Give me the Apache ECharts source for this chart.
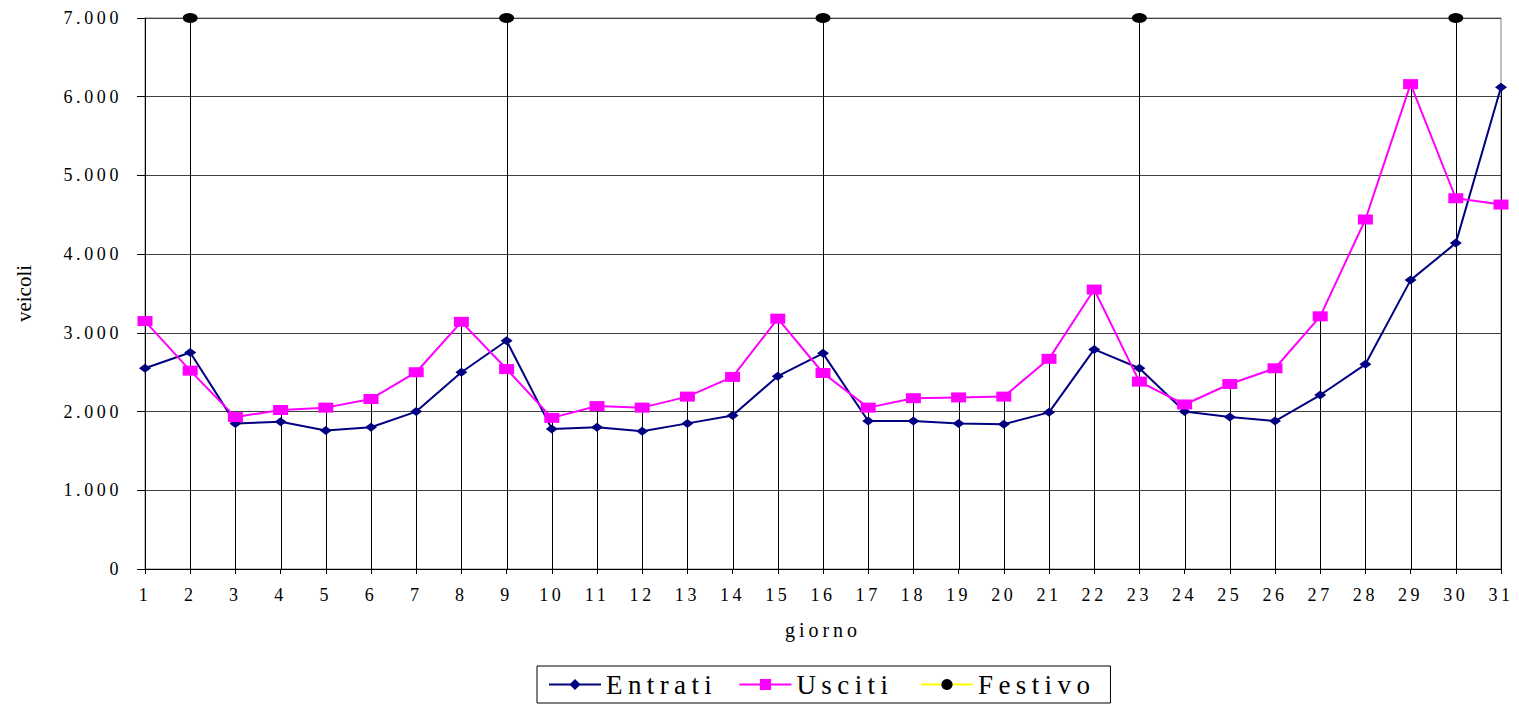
<!DOCTYPE html>
<html>
<head>
<meta charset="utf-8">
<script src="https://cdn.jsdelivr.net/npm/echarts@6/dist/echarts.min.js"></script>
<style>
  html, body { margin: 0; padding: 0; background: #fff; }
  #chart { width: 1519px; height: 706px; }
  #chart text, #chart tspan { letter-spacing: 0.2em; }
</style>
</head>
<body>
<div id="chart"></div>
<script>
// ---- data ----
const days = ['1','2','3','4','5','6','7','8','9','10','11','12','13','14','15','16','17','18','19','20','21','22','23','24','25','26','27','28','29','30','31'];
const entrati = [2550, 2750, 1850, 1870, 1760, 1800, 2000, 2500, 2900, 1780, 1800, 1750, 1850, 1950, 2450, 2740, 1880, 1880, 1850, 1840, 1990, 2790, 2550, 2000, 1930, 1880, 2210, 2600, 3670, 4140, 6120];
const usciti  = [3150, 2520, 1930, 2020, 2050, 2160, 2500, 3140, 2540, 1920, 2070, 2050, 2190, 2440, 3180, 2490, 2050, 2170, 2180, 2190, 2670, 3550, 2380, 2090, 2350, 2550, 3210, 4440, 6160, 4710, 4630];
const festivo = [null, 7000, null, null, null, null, null, null, 7000, null, null, null, null, null, null, 7000, null, null, null, null, null, null, 7000, null, null, null, null, null, null, 7000, null];
const yTicks = [0, 1000, 2000, 3000, 4000, 5000, 6000, 7000];
const seriesNames = ['Entrati', 'Usciti', 'Festivo'];

// drop lines: from the highest point of each day down to the axis
const dropData = days.map((d, i) => [i, Math.max(entrati[i] || 0, usciti[i] || 0, festivo[i] || 0)]);

const FONT = 'Liberation Serif';
const fmt = v => String(v).replace(/\B(?=(\d{3})+(?!\d))/g, '.');

const chart = echarts.init(document.getElementById('chart'), null, { renderer: 'svg' });
chart.setOption({
  animation: false,
  backgroundColor: '#fff',
  grid: { left: 145, right: 18, top: 18, bottom: 137, show: true, borderColor: '#808080', borderWidth: 1, backgroundColor: 'transparent' },
  legend: {
    data: seriesNames,
    left: 537, bottom: 3,
    itemWidth: 52, itemHeight: 14, itemGap: 59,
    padding: [5, 53, 5, 11],
    borderColor: '#000', borderWidth: 1,
    textStyle: { fontFamily: FONT, fontSize: 27, color: '#000' }
  },
  xAxis: {
    type: 'category', data: days, boundaryGap: false,
    name: 'giorno', nameLocation: 'middle', nameGap: 51,
    nameTextStyle: { fontFamily: FONT, fontSize: 20, color: '#000' },
    axisLine: { lineStyle: { color: '#000', width: 1 } },
    axisTick: { show: true, length: 5, lineStyle: { color: '#000' } },
    axisLabel: { fontFamily: FONT, fontSize: 18, color: '#000', margin: 17, interval: 0 },
    splitLine: { show: false }
  },
  yAxis: {
    type: 'value', min: yTicks[0], max: yTicks[yTicks.length - 1], interval: 1000,
    name: 'veicoli', nameLocation: 'middle', nameGap: 111, nameRotate: 90,
    nameTextStyle: { fontFamily: FONT, fontSize: 21, color: '#000' },
    axisLine: { show: true, lineStyle: { color: '#000', width: 1 } },
    axisTick: { show: true, length: 8, lineStyle: { color: '#000' } },
    axisLabel: { fontFamily: FONT, fontSize: 18, color: '#000', margin: 23, formatter: fmt },
    splitLine: { show: true, lineStyle: { color: '#404040', width: 1 } }
  },
  series: [
    {
      type: 'custom', name: 'drop', silent: true, z: 1,
      data: dropData,
      renderItem: function (params, api) {
        const top = api.coord([api.value(0), api.value(1)]);
        const bot = api.coord([api.value(0), 0]);
        const x = Math.round(top[0]) + 0.5;
        return { type: 'line', shape: { x1: x, y1: top[1], x2: x, y2: bot[1] }, style: { stroke: '#000', lineWidth: 1 } };
      }
    },
    {
      name: seriesNames[0], type: 'line', data: entrati, z: 3,
      symbol: 'diamond', symbolSize: [12, 9], showAllSymbol: true,
      lineStyle: { color: '#000080', width: 2 },
      itemStyle: { color: '#000080' }
    },
    {
      name: seriesNames[1], type: 'line', data: usciti, z: 4,
      symbol: 'rect', symbolSize: [15, 10], showAllSymbol: true,
      lineStyle: { color: '#FF00FF', width: 2 },
      itemStyle: { color: '#FF00FF' }
    },
    {
      name: seriesNames[2], type: 'line', data: festivo, z: 5, clip: false,
      symbol: 'circle', symbolSize: [15, 10], showAllSymbol: true, connectNulls: false,
      lineStyle: { color: '#FFFF00', width: 2 },
      itemStyle: { color: '#000000' }
    }
  ]
});

function fixText() {
  document.querySelectorAll('#chart text').forEach(t => {
    if (t.textContent.trim() === 'veicoli') {
      t.style.setProperty('letter-spacing', '0px', 'important');
    }
  });
}
chart.on('finished', fixText);
chart.on('rendered', fixText);
fixText();
setTimeout(fixText, 30);
setTimeout(fixText, 200);
</script>
</body>
</html>
